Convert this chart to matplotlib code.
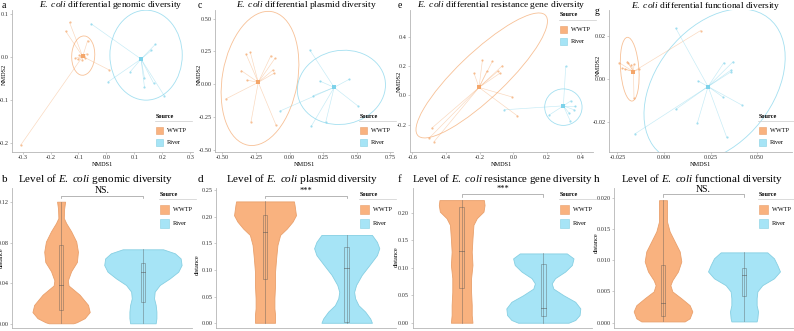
import matplotlib
matplotlib.use('Agg')
import numpy as np
import matplotlib.pyplot as plt
from matplotlib.patches import Ellipse, Rectangle
from matplotlib.lines import Line2D
from matplotlib.ticker import FormatStrFormatter

plt.rcParams['font.family'] = ['Liberation Serif', 'DejaVu Serif']
plt.rcParams['mathtext.fontset'] = 'custom'
plt.rcParams['mathtext.rm'] = 'Liberation Serif'
plt.rcParams['mathtext.it'] = 'Liberation Serif:italic'
plt.rcParams['axes.unicode_minus'] = False

W, H = 794, 331
ORANGE = '#F9B27F'
ORANGE_EDGE = '#E9A06C'
BLUE = '#A6E4F6'
BLUE_EDGE = '#86CFE2'
PT_ORANGE = '#F4A66A'
PT_BLUE = '#7DD2EA'
GROUPS = ['WWTP', 'River']

# ---- NMDS data ----
# panel a: genomic
a_wwtp_x = [-0.132, -0.146, -0.067, 0.009, -0.307, -0.097, -0.103, -0.091, -0.079, -0.076, -0.071, -0.111, -0.087]
a_wwtp_y = [0.081, 0.061, 0.039, -0.029, -0.204, 0.005, -0.005, 0.002, 0.003, -0.002, 0.008, -0.002, -0.006]
a_wwtp_c = (-0.085, 0.002)
a_river_x = [-0.055, 0.175, 0.161, 0.086, 0.136, 0.136, 0.169, 0.207, 0.006]
a_river_y = [0.078, 0.030, 0.016, -0.033, -0.047, -0.068, -0.060, -0.089, -0.057]
a_river_c = (0.124, -0.004)
a_ell = [(-0.083, 0.004, 0.082, 0.092, -15), (0.142, 0.005, 0.259, 0.209, 0)]

# panel c: plasmid
c_wwtp_x = [-0.475, -0.324, -0.292, -0.359, -0.319, -0.139, -0.109, -0.124, -0.116, -0.287, -0.101]
c_wwtp_y = [-0.111, 0.230, 0.243, 0.104, 0.033, 0.218, 0.197, 0.109, 0.084, -0.284, -0.309]
c_wwtp_c = (-0.233, 0.015)
c_river_x = [0.151, 0.225, 0.176, 0.443, 0.510, 0.270, 0.163, -0.072]
c_river_y = [0.261, 0.025, -0.086, 0.038, -0.165, -0.284, -0.316, -0.203]
c_river_c = (0.332, -0.023)
c_ell = [(-0.22, 0.045, 1.03, 0.56, 80.3), (0.386, -0.023, 0.66, 0.56, 12)]

# panel e: resistance gene
e_wwtp_x = [-0.234, -0.184, -0.158, -0.125, -0.093, -0.065, -0.079, -0.006, 0.024, -0.485, -0.501, -0.471]
e_wwtp_y = [0.153, 0.240, 0.165, 0.233, 0.165, 0.204, 0.153, -0.011, -0.140, -0.224, -0.293, -0.316]
e_wwtp_c = (-0.204, 0.055)
e_river_x = [0.311, 0.341, 0.366, 0.360, 0.331, 0.337, 0.214, -0.053]
e_river_y = [0.199, -0.037, -0.071, -0.098, -0.121, -0.172, -0.133, -0.098]
e_river_c = (0.297, -0.071)
e_ell = [(-0.188, 0.137, 1.12, 0.296, 48), (0.297, -0.08, 0.222, 0.25, 0)]

# panel g: functional
g_wwtp_x = [-0.0241, -0.0196, -0.0191, -0.0175, -0.0161, -0.0223, -0.0211, -0.0134, -0.0161, 0.0196]
g_wwtp_y = [0.0075, 0.0080, 0.0072, 0.0065, 0.0068, 0.0049, 0.0045, 0.0045, -0.0089, 0.0223]
g_wwtp_c = (-0.0164, 0.0034)
g_river_x = [0.0063, 0.0182, 0.0321, 0.0371, 0.0361, 0.0361, 0.0318, 0.0063, 0.0179, 0.0336, 0.0416, -0.0157]
g_river_y = [0.0234, -0.0009, 0.0075, 0.0080, 0.0042, 0.0034, -0.0085, -0.0140, -0.0202, -0.0269, -0.0120, -0.0254]
g_river_c = (0.0236, -0.0035)
g_ell = [(-0.0184, 0.0045, 0.0098, 0.0295, 5), (0.0271, -0.0032, 0.086, 0.058, 40)]

# ---- violin data: y levels and half widths (x units), box (q1, median, q3) ----
b_wwtp_y = [0.120, 0.113, 0.104, 0.099, 0.091, 0.081, 0.071, 0.061, 0.052, 0.043, 0.038, 0.029, 0.019, 0.012, 0.006, 0.002, 0.001]
b_wwtp_w = [0.049, 0.037, 0.033, 0.062, 0.123, 0.185, 0.206, 0.193, 0.123, 0.082, 0.091, 0.226, 0.329, 0.350, 0.288, 0.190, 0.150]
b_river_y = [0.0734, 0.0695, 0.0645, 0.058, 0.0515, 0.045, 0.0385, 0.032, 0.0254, 0.019, 0.0124, 0.006, 0.001]
b_river_w = [0.247, 0.391, 0.461, 0.473, 0.432, 0.329, 0.206, 0.144, 0.136, 0.156, 0.165, 0.165, 0.156]
b_box = [(0.014, 0.038, 0.0776), (0.0222, 0.0509, 0.0597)]

d_wwtp_y = [0.229, 0.222, 0.203, 0.191, 0.178, 0.166, 0.147, 0.122, 0.097, 0.072, 0.047, 0.028, 0.016, 0.001]
d_wwtp_w = [0.354, 0.362, 0.379, 0.337, 0.267, 0.185, 0.152, 0.136, 0.123, 0.123, 0.115, 0.115, 0.123, 0.123]
d_river_y = [0.166, 0.153, 0.141, 0.128, 0.109, 0.091, 0.072, 0.059, 0.047, 0.034, 0.022, 0.009, 0.001]
d_river_w = [0.309, 0.370, 0.399, 0.370, 0.276, 0.185, 0.115, 0.091, 0.103, 0.144, 0.226, 0.288, 0.309]
d_box = [(0.0825, 0.171, 0.204), (0.002, 0.103, 0.143)]

f_wwtp_y = [0.223, 0.214, 0.202, 0.190, 0.178, 0.153, 0.129, 0.105, 0.081, 0.056, 0.032, 0.014, 0.0]
f_wwtp_w = [0.272, 0.280, 0.267, 0.185, 0.144, 0.132, 0.123, 0.132, 0.115, 0.115, 0.123, 0.123, 0.132]
f_river_y = [0.126, 0.117, 0.105, 0.093, 0.081, 0.0715, 0.062, 0.050, 0.038, 0.026, 0.014, 0.005, 0.0]
f_river_w = [0.288, 0.370, 0.350, 0.267, 0.144, 0.103, 0.123, 0.247, 0.391, 0.453, 0.444, 0.391, 0.309]
f_box = [(0.064, 0.131, 0.2097), (0.0127, 0.026, 0.1067)]

h_wwtp_y = [0.0196, 0.0178, 0.0162, 0.0146, 0.0130, 0.0114, 0.0098, 0.0082, 0.0068, 0.0060, 0.0050, 0.0039, 0.0028, 0.0018, 0.0007, 0.0002]
h_wwtp_w = [0.049, 0.049, 0.049, 0.082, 0.144, 0.206, 0.226, 0.185, 0.115, 0.091, 0.115, 0.226, 0.329, 0.362, 0.329, 0.267]
h_river_y = [0.01125, 0.0103, 0.0092, 0.0082, 0.0071, 0.0060, 0.0050, 0.0039, 0.0028, 0.0018, 0.0007, 0.0002]
h_river_w = [0.288, 0.370, 0.412, 0.444, 0.370, 0.226, 0.165, 0.156, 0.156, 0.173, 0.165, 0.156]
h_box = [(0.001, 0.0031, 0.0092), (0.0043, 0.0077, 0.0087)]

fig = plt.figure(figsize=(W / 100, H / 100), dpi=100)


def add_ax(left, right, top, bottom):
    return fig.add_axes([left / W, 1 - bottom / H, (right - left) / W, (bottom - top) / H])


def style(ax):
    for s in ['top', 'right']:
        ax.spines[s].set_visible(False)
    for s in ['left', 'bottom']:
        ax.spines[s].set_color('#b5b5b5')
        ax.spines[s].set_linewidth(0.6)
    ax.tick_params(labelsize=4.5, length=1.5, width=0.5, color='#b5b5b5', pad=1, labelcolor='#333333')
    ax.set_facecolor('none')


def legend(x, y, key, size=4.5):
    # drawn in figure pixels, like ggplot's legend box
    fig.text(x / W, 1 - y / H, 'Source', fontsize=size, fontweight='bold', va='center', ha='left')
    fig.add_artist(Line2D([(x - 1) / W, (x + 36) / W], [1 - (y + 5) / H] * 2, color='#cccccc', lw=0.5))
    for i, (g, fc, ec) in enumerate(zip(GROUPS, [ORANGE, BLUE], [ORANGE_EDGE, BLUE_EDGE])):
        yc = y + 11 + key / 2 + i * (key + 5)
        fig.add_artist(Rectangle((x / W, 1 - (yc + key / 2) / H), key / W, key / H,
                                 facecolor=fc, edgecolor=ec, lw=0.4, transform=fig.transFigure))
        fig.text((x + key + 4) / W, 1 - yc / H, g, fontsize=size, va='center', ha='left')


def nmds(ax, wx, wy, wc, rx, ry, rc, ells, lab_x, lab_y):
    for xs, ys, c, col in [(wx, wy, wc, PT_ORANGE), (rx, ry, rc, PT_BLUE)]:
        for x, y in zip(xs, ys):
            ax.plot([c[0], x], [c[1], y], color=col, lw=0.45, alpha=0.45, zorder=2)
        ax.scatter(xs, ys, s=2.5, color=col, alpha=0.7, lw=0, zorder=3)
        ax.scatter([c[0]], [c[1]], s=5, marker='s', color=col, lw=0, zorder=4)
    for (cx, cy, w, h, ang), col in zip(ells, [PT_ORANGE, PT_BLUE]):
        ax.add_patch(Ellipse((cx, cy), w, h, angle=ang, fill=False, edgecolor=col, lw=0.6, alpha=0.7))
    ax.set_xlabel('NMDS1', fontsize=4.5, labelpad=1)
    ax.set_ylabel('NMDS2', fontsize=4.5)
    ax.yaxis.set_label_coords(lab_x, lab_y)
    style(ax)


def violin(ax, wy, ww, ry, rw, boxes, lab_x, lab_y):
    for pos, ys, ws, fc, ec, box in [(1, wy, ww, ORANGE, ORANGE_EDGE, boxes[0]),
                                     (2, ry, rw, BLUE, BLUE_EDGE, boxes[1])]:
        ys = np.array(ys)
        ws = np.array(ws)
        ax.fill_betweenx(ys, pos - ws, pos + ws, facecolor=fc, edgecolor=ec, lw=0.6, zorder=2)
        ax.plot([pos, pos], [ys.min(), ys.max()], color='#555555', alpha=0.55, lw=0.5, zorder=3)
        q1, med, q3 = box
        ax.add_patch(Rectangle((pos - 0.027, q1), 0.054, q3 - q1, fill=False, edgecolor='#555555',
                               alpha=0.55, lw=0.5, zorder=3))
        ax.plot([pos - 0.027, pos + 0.027], [med, med], color='#555555', alpha=0.6, lw=0.6, zorder=3)
    ax.set_xlim(0.4, 2.6)
    ax.set_xticks([])
    ax.set_ylabel('distance', fontsize=4.5)
    ax.yaxis.set_label_coords(lab_x, lab_y)
    style(ax)


def bracket(ax, y, drop, label, size):
    ax.plot([1, 1, 2, 2], [y - drop, y, y, y - drop], color='#999999', lw=0.5, clip_on=False)
    ax.annotate(label, (1.5, y), xytext=(0, 3.8), textcoords='offset points',
                ha='center', va='center', fontsize=size, annotation_clip=False)


title_kw = dict(ha='center', va='center')

# ---- top row ----
ax = add_ax(12, 193, 10, 152)
nmds(ax, a_wwtp_x, a_wwtp_y, a_wwtp_c, a_river_x, a_river_y, a_river_c, a_ell, -0.03, 0.55)
ax.set_xlim(-0.338, 0.31)
ax.set_ylim(-0.220, 0.110)
ax.set_xticks([-0.3, -0.2, -0.1, 0.0, 0.1, 0.2, 0.3])
ax.set_yticks([-0.2, -0.1, 0.0, 0.1])
fig.text(111 / W, 1 - 5 / H, r'$\mathit{E.\ coli}$ differential genomic diversity', fontsize=6.8, **title_kw)
fig.text(4 / W, 1 - 6 / H, 'a', fontsize=7, **title_kw)
legend(156, 116, 7)

ax = add_ax(215, 393, 10, 152)
nmds(ax, c_wwtp_x, c_wwtp_y, c_wwtp_c, c_river_x, c_river_y, c_river_c, c_ell, -0.073, 0.55)
ax.set_xlim(-0.555, 0.77)
ax.set_ylim(-0.514, 0.565)
ax.set_xticks([-0.5, -0.25, 0.0, 0.25, 0.5, 0.75])
ax.set_yticks([-0.5, -0.25, 0.0, 0.25, 0.5])
ax.xaxis.set_major_formatter(FormatStrFormatter('%.2f'))
ax.yaxis.set_major_formatter(FormatStrFormatter('%.2f'))
fig.text(306 / W, 1 - 5 / H, r'$\mathit{E.\ coli}$ differential plasmid diversity', fontsize=6.8, **title_kw)
fig.text(200 / W, 1 - 5 / H, 'c', fontsize=7, **title_kw)
legend(360, 116, 7)

ax = add_ax(410, 593, 10, 152)
nmds(ax, e_wwtp_x, e_wwtp_y, e_wwtp_c, e_river_x, e_river_y, e_river_c, e_ell, -0.045, 0.5)
ax.set_xlim(-0.614, 0.473)
ax.set_ylim(-0.387, 0.585)
ax.set_xticks([-0.6, -0.4, -0.2, 0.0, 0.2, 0.4])
ax.set_yticks([-0.2, 0.0, 0.2, 0.4])
fig.text(501 / W, 1 - 5 / H, r'$\mathit{E.\ coli}$ differential resistance gene diversity', fontsize=6.8, **title_kw)
fig.text(400 / W, 1 - 6 / H, 'e', fontsize=7, **title_kw)
legend(560, 15, 7)

ax = add_ax(609, 792, 10, 152)
nmds(ax, g_wwtp_x, g_wwtp_y, g_wwtp_c, g_river_x, g_river_y, g_river_c, g_ell, -0.045, 0.61)
ax.set_xlim(-0.0295, 0.0686)
ax.set_ylim(-0.0337, 0.0318)
ax.set_xticks([-0.025, 0.0, 0.025, 0.05])
ax.set_yticks([-0.02, 0.0, 0.02])
ax.xaxis.set_major_formatter(FormatStrFormatter('%.3f'))
ax.yaxis.set_major_formatter(FormatStrFormatter('%.2f'))
fig.text(706 / W, 1 - 6 / H, r'$\mathit{E.\ coli}$ differential functional diversity', fontsize=6.8, **title_kw)
fig.text(597 / W, 1 - 11 / H, 'g', fontsize=7, **title_kw)
legend(759, 116, 7)

# ---- bottom row ----
ax = add_ax(12, 192, 188, 328)
violin(ax, b_wwtp_y, b_wwtp_w, b_river_y, b_river_w, b_box, -0.045, 0.5)
ax.set_ylim(-0.0036, 0.1334)
ax.set_yticks([0.0, 0.04, 0.08, 0.12])
ax.yaxis.set_major_formatter(FormatStrFormatter('%.2f'))
bracket(ax, 0.1258, 0.0025, 'NS.', 7)
fig.text(96 / W, 1 - 179 / H, r'Level of $\mathit{E.\ coli}$ genomic diversity', fontsize=8, **title_kw)
fig.text(5 / W, 1 - 179 / H, 'b', fontsize=8, **title_kw)
legend(160, 194, 9)

ax = add_ax(216, 395.7, 188, 328)
violin(ax, d_wwtp_y, d_wwtp_w, d_river_y, d_river_w, d_box, -0.089, 0.45)
ax.set_ylim(-0.0088, 0.2542)
ax.set_yticks([0.0, 0.05, 0.10, 0.15, 0.20, 0.25])
ax.yaxis.set_major_formatter(FormatStrFormatter('%.2f'))
bracket(ax, 0.2395, 0.005, '***', 6)
fig.text(302 / W, 1 - 179 / H, r'Level of $\mathit{E.\ coli}$ plasmid diversity', fontsize=8, **title_kw)
fig.text(200 / W, 1 - 179 / H, 'd', fontsize=8, **title_kw)
legend(360, 194, 9)

ax = add_ax(412.7, 592.3, 188, 328)
violin(ax, f_wwtp_y, f_wwtp_w, f_river_y, f_river_w, f_box, -0.076, 0.51)
ax.set_ylim(-0.0096, 0.245)
ax.set_yticks([0.0, 0.05, 0.10, 0.15, 0.20])
ax.yaxis.set_major_formatter(FormatStrFormatter('%.2f'))
bracket(ax, 0.2335, 0.005, '***', 6)
fig.text(502 / W, 1 - 179 / H, r'Level of $\mathit{E.\ coli}$ resistance gene diversity', fontsize=7.8, **title_kw)
fig.text(400 / W, 1 - 179 / H, 'f', fontsize=8, **title_kw)
legend(560, 194, 9)

ax = add_ax(614.4, 792.6, 188, 328)
violin(ax, h_wwtp_y, h_wwtp_w, h_river_y, h_river_w, h_box, -0.087, 0.61)
ax.set_ylim(-0.00085, 0.02155)
ax.set_yticks([0.0, 0.005, 0.010, 0.015, 0.020])
ax.yaxis.set_major_formatter(FormatStrFormatter('%.3f'))
bracket(ax, 0.02054, 0.0004, 'NS.', 7)
fig.text(702 / W, 1 - 179 / H, r'Level of $\mathit{E.\ coli}$ functional diversity', fontsize=8, **title_kw)
fig.text(597 / W, 1 - 179 / H, 'h', fontsize=8, **title_kw)
legend(759, 194, 9)

fig.savefig('out.png', dpi=100)
